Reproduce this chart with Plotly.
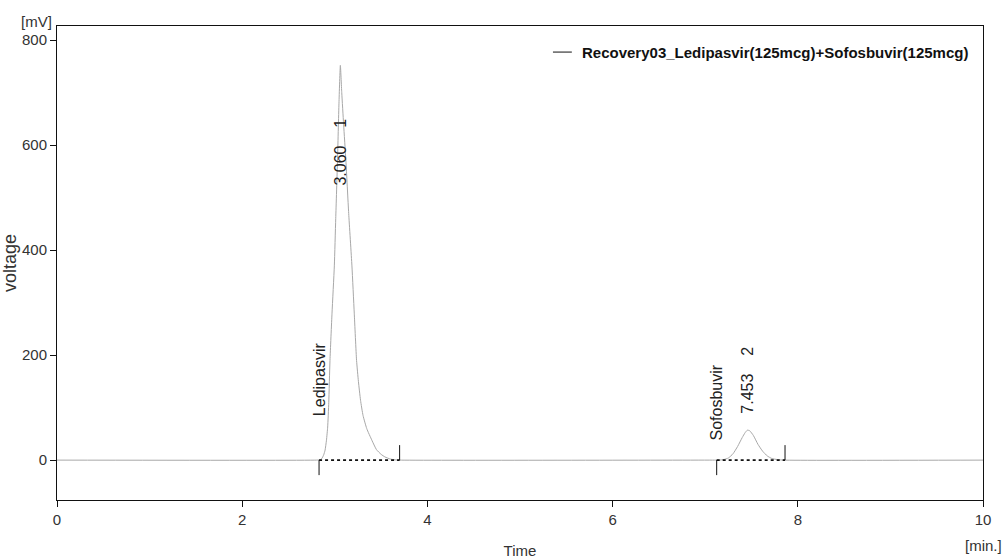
import plotly.graph_objects as go

# Chromatogram trace (time in min, detector signal in mV)
time_min = [
    0.00, 2.80, 2.84, 2.86, 2.88, 2.895, 2.91, 2.923, 2.935, 2.948, 2.97,
    2.995, 3.01, 3.029, 3.045, 3.060, 3.075, 3.095, 3.12, 3.15, 3.185,
    3.21, 3.235, 3.255, 3.278, 3.305, 3.345, 3.40, 3.45, 3.50, 3.542, 3.60,
    3.65, 3.70, 7.10, 7.15, 7.20, 7.25, 7.30, 7.35, 7.40, 7.43, 7.455,
    7.48, 7.52, 7.57, 7.62, 7.67, 7.72, 7.78, 7.85, 10.00,
]
signal_mv = [
    0, 0, 0.5, 3, 10, 19, 38, 63, 110, 190, 280,
    370, 460, 570, 680, 752, 700, 640, 570, 470, 370,
    280, 190, 150, 114, 85, 60, 38, 20, 11, 6, 2,
    0.5, 0, 0, 0, 1, 4, 12, 26, 43, 52, 57,
    56, 47, 30, 17, 8, 3, 1, 0, 0,
]

# Peak table
peak_names = ["Ledipasvir", "Sofosbuvir"]
peak_numbers = [1, 2]
retention_times = [3.060, 7.453]
peak_start = [2.83, 7.124]
peak_end = [3.70, 7.862]

sample_name = "Recovery03_Ledipasvir(125mcg)+Sofosbuvir(125mcg)"
x_ticks = [0, 2, 4, 6, 8, 10]
y_ticks = [0, 200, 400, 600, 800]

FONT = "Liberation Sans, Arial, sans-serif"
NB = "\u00a0"

fig = go.Figure()

fig.add_trace(go.Scatter(
    x=time_min, y=signal_mv, mode="lines",
    line=dict(color="#a8a8a8", width=1, shape="spline", smoothing=0.5),
    showlegend=False, hoverinfo="skip",
))

# integration baselines
for s, e in zip(peak_start, peak_end):
    fig.add_trace(go.Scatter(
        x=[s, e], y=[0, 0], mode="lines",
        line=dict(color="#111111", width=1.6, dash="dot"),
        showlegend=False, hoverinfo="skip",
    ))

shapes = []
annotations = []

# start / end markers of each integrated peak
for s, e in zip(peak_start, peak_end):
    shapes.append(dict(type="line", xref="x", yref="y", ysizemode="pixel",
                       yanchor=0, x0=s, x1=s, y0=0, y1=-15,
                       line=dict(color="#111111", width=1)))
    shapes.append(dict(type="line", xref="x", yref="y", ysizemode="pixel",
                       yanchor=0, x0=e, x1=e, y0=0, y1=15,
                       line=dict(color="#111111", width=1)))

# retention time + peak number labels
rt_label_y = [519, 84]
for rt, num, ly in zip(retention_times, peak_numbers, rt_label_y):
    annotations.append(dict(
        x=rt, y=ly, xref="x", yref="y", text=f"{rt:.3f}{NB*4}{num}",
        textangle=-90, showarrow=False, xanchor="center", yanchor="bottom",
        font=dict(family=FONT, size=16, color="#222222"),
    ))

# compound names at the start of each peak
name_label_y = [80, 33]
for name, s, ly in zip(peak_names, peak_start, name_label_y):
    annotations.append(dict(
        x=s, y=ly, xref="x", yref="y", text=name,
        textangle=-90, showarrow=False, xanchor="center", yanchor="bottom",
        font=dict(family=FONT, size=16, color="#222222"),
    ))

# legend entry
shapes.append(dict(type="line", xref="paper", yref="paper",
                   x0=0.5356, x1=0.556, y0=0.945, y1=0.945,
                   line=dict(color="#111111", width=1)))
annotations.append(dict(
    x=0.5648, y=0.945, xref="paper", yref="paper", text=f"<b>{sample_name}</b>",
    showarrow=False, xanchor="left", yanchor="middle",
    font=dict(family=FONT, size=15, color="#111111"),
))

# unit labels
annotations.append(dict(
    x=-0.022, y=1.0, xref="paper", yref="paper", text="[mV]",
    showarrow=False, xanchor="center", yanchor="bottom", yshift=-6,
    font=dict(family=FONT, size=15, color="#333333"),
))
annotations.append(dict(
    x=1.0, y=0, xref="paper", yref="paper", text="[min.]", yshift=-45,
    showarrow=False, xanchor="center", yanchor="middle",
    font=dict(family=FONT, size=15, color="#333333"),
))

fig.update_layout(
    width=1003, height=559,
    margin=dict(l=57, r=20, t=26, b=59),
    paper_bgcolor="white", plot_bgcolor="white",
    font=dict(family=FONT, size=15, color="#333333"),
    shapes=shapes, annotations=annotations,
    showlegend=False,
)

fig.update_xaxes(
    range=[0, 10], tickvals=x_ticks, ticks="outside", ticklen=6,
    tickcolor="#111111", showline=True, linecolor="#111111", linewidth=1,
    mirror=True, showgrid=False, zeroline=False, automargin=False,
    tickfont=dict(family=FONT, size=15, color="#333333"),
    title=dict(text="Time", font=dict(family=FONT, size=15, color="#333333"),
               standoff=20),
)
fig.update_yaxes(
    range=[-76, 827], tickvals=y_ticks, ticks="outside", ticklen=6,
    tickcolor="#111111", showline=True, linecolor="#111111", linewidth=1,
    mirror=True, showgrid=False, zeroline=False, automargin=False,
    tickfont=dict(family=FONT, size=15, color="#333333"),
    title=dict(text="voltage", font=dict(family=FONT, size=18, color="#333333"),
               standoff=5),
)

fig.write_html("out.html")
